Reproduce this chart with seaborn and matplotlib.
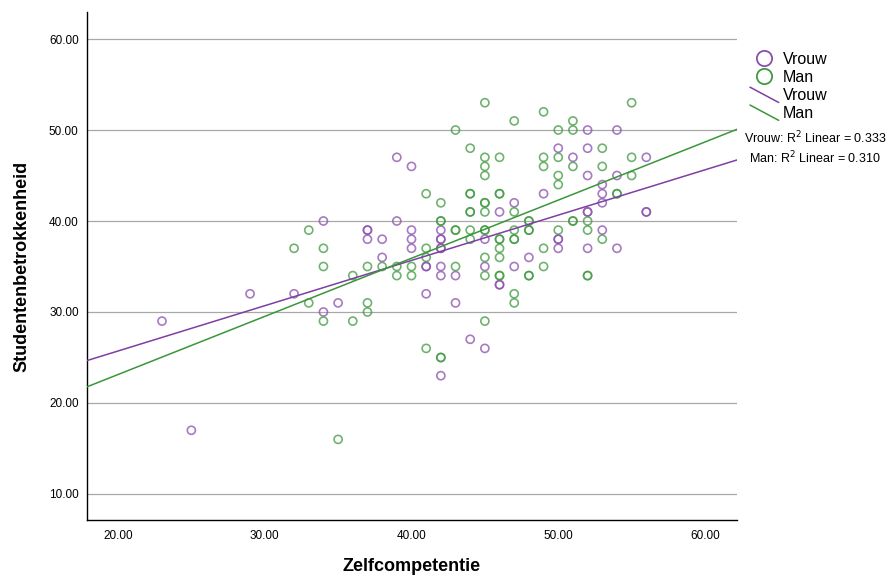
import matplotlib
matplotlib.use("Agg")
import matplotlib.pyplot as plt
from matplotlib.lines import Line2D
from matplotlib.legend_handler import HandlerLine2D
import seaborn as sns
import pandas as pd

# Vrouw (women) points
vrouw_x = [23, 25, 29, 32, 34, 34, 35, 37, 37, 37, 38, 38, 39, 39, 40, 40, 40, 40, 41, 41,
           41, 42, 42, 42, 42, 42, 42, 42, 42, 43, 43, 44, 45, 45, 45, 46, 46, 46, 47, 47,
           48, 49, 50, 50, 50, 50, 51, 52, 52, 52, 52, 52, 52, 53, 53, 53, 53, 54, 54, 54,
           56, 56, 56]
vrouw_y = [29, 17, 32, 32, 40, 30, 31, 39, 39, 38, 38, 36, 47, 40, 46, 39, 38, 37, 35, 35,
           32, 39, 38, 38, 37, 37, 35, 34, 23, 34, 31, 27, 38, 35, 26, 41, 33, 33, 42, 35,
           36, 43, 48, 38, 38, 37, 47, 50, 48, 45, 41, 41, 37, 44, 43, 42, 39, 50, 45, 37,
           47, 41, 41]

# Man (men) points
man_x = [32, 33, 33, 34, 34, 34, 35, 36, 36, 37, 37, 37, 38, 39, 39, 40, 40, 41, 41, 41,
         41, 42, 42, 42, 42, 42, 43, 43, 43, 43, 44, 44, 44, 44, 44, 44, 44, 45, 45, 45,
         45, 45, 45, 45, 45, 45, 45, 45, 45, 46, 46, 46, 46, 46, 46, 46, 46, 46, 47, 47,
         47, 47, 47, 47, 47, 48, 48, 48, 48, 48, 48, 49, 49, 49, 49, 49, 50, 50, 50, 50,
         50, 51, 51, 51, 51, 51, 52, 52, 52, 52, 53, 53, 53, 54, 54, 55, 55, 55]
man_y = [37, 39, 31, 37, 35, 29, 16, 34, 29, 35, 31, 30, 35, 35, 34, 35, 34, 43, 37, 36,
         26, 42, 40, 40, 25, 25, 50, 39, 39, 35, 48, 43, 43, 41, 41, 39, 38, 53, 47, 46,
         45, 42, 42, 41, 39, 39, 36, 34, 29, 47, 43, 43, 38, 38, 37, 36, 34, 34, 51, 41,
         39, 38, 38, 32, 31, 40, 40, 39, 39, 34, 34, 52, 47, 46, 37, 35, 50, 47, 45, 44,
         39, 51, 50, 46, 40, 40, 40, 39, 34, 34, 48, 46, 38, 43, 43, 53, 47, 45]

groups = ["Vrouw", "Man"]
r2_values = ["0.333", "0.310"]
y_ticks = [10, 20, 30, 40, 50, 60]
x_ticks = [20, 30, 40, 50, 60]

colors = {"Vrouw": "#8a4fae", "Man": "#3f9a3f"}
line_colors = {"Vrouw": "#7e3fa3", "Man": "#3a963a"}

df = pd.concat([
    pd.DataFrame({"Zelfcompetentie": vrouw_x, "Studentenbetrokkenheid": vrouw_y, "Geslacht": "Vrouw"}),
    pd.DataFrame({"Zelfcompetentie": man_x, "Studentenbetrokkenheid": man_y, "Geslacht": "Man"}),
])

sns.set_style("white")
plt.rcParams["font.family"] = ["Liberation Sans", "DejaVu Sans"]
plt.rcParams["text.color"] = "black"
plt.rcParams["axes.labelcolor"] = "black"
plt.rcParams["xtick.color"] = "black"
plt.rcParams["ytick.color"] = "black"

fig = plt.figure(figsize=(8.96, 5.75), dpi=100)
ax = fig.add_axes([87 / 896, 1 - 520 / 575, 650 / 896, 508 / 575])
ax.set_xlim(17.89, 62.18)
ax.set_ylim(7.14, 62.97)

# gridlines behind everything
for t in y_ticks:
    ax.axhline(t, color="#a8a8a8", lw=0.9, zorder=0)

for g in groups:
    sub = df[df["Geslacht"] == g]
    sns.scatterplot(data=sub, x="Zelfcompetentie", y="Studentenbetrokkenheid", ax=ax,
                    marker="o", s=34, facecolors="none", edgecolor=colors[g],
                    linewidth=1.2, alpha=0.75, legend=False, zorder=2)
for g in groups:
    sub = df[df["Geslacht"] == g]
    sns.regplot(data=sub, x="Zelfcompetentie", y="Studentenbetrokkenheid", ax=ax,
                scatter=False, ci=None, truncate=False,
                line_kws={"color": line_colors[g], "lw": 1.1, "zorder": 3})

ax.set_xlim(17.89, 62.18)
ax.set_ylim(7.14, 62.97)
ax.set_xticks(x_ticks)
ax.set_yticks(y_ticks)
ax.set_xticklabels([f"{t:.2f}" for t in x_ticks], fontsize=8.5)
ax.set_yticklabels([f"{t:.2f}" for t in y_ticks], fontsize=8.5)
ax.tick_params(length=0, pad=6)
ax.tick_params(axis="x", pad=7)
for s in ["top", "right"]:
    ax.spines[s].set_visible(False)
for s in ["left", "bottom"]:
    ax.spines[s].set_color("black")
    ax.spines[s].set_linewidth(1.0)

ax.set_xlabel("Zelfcompetentie", fontsize=13, fontweight="bold", labelpad=12)
ax.set_ylabel("Studentenbetrokkenheid", fontsize=13, fontweight="bold", labelpad=13)


class DiagHandler(HandlerLine2D):
    def create_artists(self, legend, orig_handle, xdescent, ydescent, width, height, fontsize, trans):
        ln = Line2D([-xdescent, width - xdescent], [height + 1, -ydescent - 2],
                    color=orig_handle.get_color(), lw=1.1, transform=trans)
        return [ln]


handles = [Line2D([], [], marker="o", linestyle="", markerfacecolor="none",
                  markeredgecolor=colors[g], markeredgewidth=1.3, markersize=11) for g in groups]
line_handles = [Line2D([], [], color=line_colors[g], lw=1.1) for g in groups]
handler_map = {h: DiagHandler() for h in line_handles}
fig.legend(handles + line_handles, groups + groups, loc="upper left",
           bbox_to_anchor=(742 / 896, 1 - 44 / 575), frameon=False, fontsize=11.5,
           handlelength=1.8, handletextpad=0.25, labelspacing=0.18, borderpad=0,
           handler_map=handler_map)

r2_text = "\n".join(f"{g}: R$^2$ Linear = {r}" for g, r in zip(groups, r2_values))
fig.text(815 / 896, 1 - 130 / 575, r2_text, ha="center", va="top", fontsize=9,
         multialignment="center", linespacing=1.25)

fig.savefig("out.png", dpi=100)
